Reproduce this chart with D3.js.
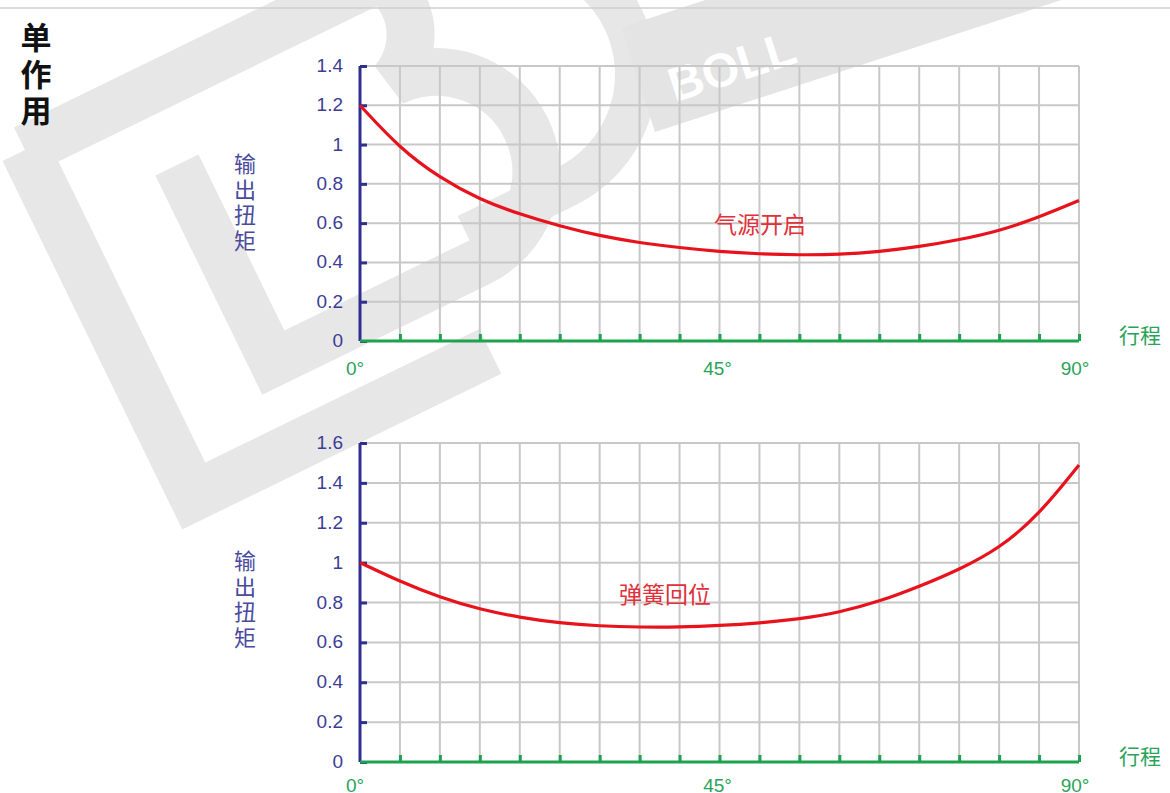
<!DOCTYPE html>
<html><head><meta charset="utf-8">
<script src="https://cdn.jsdelivr.net/npm/d3@7"></script>
<style>html,body{margin:0;padding:0;background:#fff;overflow:hidden}</style>
</head><body>
<svg id="c" width="1170" height="793"></svg>
<script>
const angles = [0,5,10,15,20,25,30,35,40,45,50,55,60,65,70,75,80,85,90];
const airOpen = [1.20,0.98,0.83,0.72,0.645,0.585,0.535,0.50,0.475,0.455,0.443,0.438,0.44,0.455,0.48,0.515,0.56,0.63,0.715];
const springReturn = [1.00,0.905,0.825,0.765,0.725,0.697,0.682,0.676,0.676,0.684,0.697,0.717,0.75,0.805,0.88,0.965,1.07,1.24,1.49];
const topTicks = [0,0.2,0.4,0.6,0.8,1,1.2,1.4];
const bottomTicks = [0,0.2,0.4,0.6,0.8,1,1.2,1.4,1.6];
const xLabels = [[0,"0°"],[45,"45°"],[90,"90°"]];
const title = "单作用";
const yTitle = "输出扭矩";
const xTitle = "行程";
const seriesNames = ["气源开启","弹簧回位"];

const svg = d3.select("#c");
const NAVY = "#2f2f8f", GREEN = "#1fa24f", GRID = "#c8c8c8", RED = "#e8121c";
const NUMFONT = "'Liberation Sans', Arial, sans-serif";
const CJK = "'Noto Sans CJK SC', sans-serif";

// watermark (decorative background)
const wm = svg.append("g").attr("fill","none").attr("stroke","#e7e7e7");
const g1 = wm.append("g").attr("transform","translate(25,150) rotate(-26)");
g1.append("path").attr("stroke-width",50)
  .attr("d","M0,0 L0,385 L330,385 M0,0 L470,0");
g1.append("path").attr("stroke-width",48)
  .attr("d","M130,80 L130,300 L360,300 A100,100 0 0 0 360,100 A70,70 0 0 0 360,-30");
g1.append("path").attr("stroke-width",42)
  .attr("d","M470,20 A125,125 0 0 1 470,270 L360,270");
const g2 = svg.append("g").attr("transform","translate(655,132) rotate(-18)");
g2.append("rect").attr("x",0).attr("y",-110).attr("width",430).attr("height",110).attr("fill","#e4e4e4");
g2.append("text").attr("x",28).attr("y",-22).attr("fill","#fff").attr("font-family",NUMFONT)
  .attr("font-weight","bold").attr("font-size",48).text("BOLL");

// top separator
svg.append("line").attr("x1",0).attr("x2",1170).attr("y1",8).attr("y2",8).attr("stroke","#cfcfcf").attr("stroke-width",1.5);

// title (vertical)
svg.append("text").attr("x",36).attr("y",22)
  .style("writing-mode","vertical-rl").style("text-orientation","upright")
  .style("letter-spacing","5.5px")
  .attr("font-family",CJK).attr("font-weight","bold").attr("font-size",31).attr("fill","#111").text(title);

function panel(yTop, yBottom, ymax, ticks, data, label, labelPos, yTitleTop, xLabelY){
  const x = d3.scaleLinear().domain([0,90]).range([360,1079]);
  const y = d3.scaleLinear().domain([0,ymax]).range([yBottom,yTop]);
  const g = svg.append("g");
  // grid
  g.append("g").selectAll("line").data(d3.range(5,95,5)).join("line")
    .attr("x1",d=>x(d)).attr("x2",d=>x(d)).attr("y1",y(ymax)).attr("y2",y(0))
    .attr("stroke",GRID).attr("stroke-width",2);
  g.append("g").selectAll("line").data(ticks.filter(d=>d>0)).join("line")
    .attr("x1",x(0)).attr("x2",x(90)).attr("y1",d=>y(d)).attr("y2",d=>y(d))
    .attr("stroke",GRID).attr("stroke-width",2);
  // y axis
  const ya = g.append("g").attr("transform",`translate(${x(0)},0)`)
    .call(d3.axisRight(y).tickValues(ticks).tickSize(7).tickFormat(""));
  ya.select(".domain").attr("stroke",NAVY).attr("stroke-width",3).attr("d",`M0,${y(ymax)}V${y(0)}`);
  ya.selectAll(".tick line").attr("stroke",NAVY).attr("stroke-width",3);
  g.append("g").selectAll("text").data(ticks).join("text")
    .attr("x",343).attr("y",d=>y(d)+6).attr("text-anchor","end")
    .attr("font-family",NUMFONT).attr("font-size",19).attr("fill","#3c3c96").text(d=>d);
  // x axis
  const xa = g.append("g").attr("transform",`translate(0,${y(0)})`)
    .call(d3.axisTop(x).tickValues(d3.range(5,95,5)).tickSize(7).tickFormat(""));
  xa.select(".domain").attr("stroke",GREEN).attr("stroke-width",3).attr("d",`M${x(0)},0H${x(90)}`);
  xa.selectAll(".tick line").attr("stroke",GREEN).attr("stroke-width",3);
  g.append("g").selectAll("text").data(xLabels).join("text")
    .attr("x",d=>x(d[0])-(d[0]==90?4:(d[0]==0?5:2))).attr("y",xLabelY).attr("text-anchor","middle")
    .attr("font-family",NUMFONT).attr("font-size",19).attr("fill","#2aa35a").text(d=>d[1]);
  g.append("text").attr("x",1140).attr("y",y(0)+2).attr("text-anchor","middle")
    .attr("font-family",CJK).attr("font-size",21).attr("fill","#2aa35a").text(xTitle);
  // y title (vertical)
  g.append("text").attr("x",245).attr("y",yTitleTop)
    .style("writing-mode","vertical-rl").style("text-orientation","upright")
    .style("letter-spacing","3.5px")
    .attr("font-family",CJK).attr("font-size",22).attr("fill","#4a4a9e").text(yTitle);
  // curve
  const line = d3.line().x((d,i)=>x(angles[i])).y(d=>y(d)).curve(d3.curveBasis);
  g.append("path").datum(data).attr("d",line).attr("fill","none").attr("stroke",RED).attr("stroke-width",3.2);
  g.append("text").attr("x",labelPos[0]).attr("y",labelPos[1]).attr("text-anchor","middle")
    .attr("font-family",CJK).attr("font-size",23).attr("fill","#e0303a").text(label);
}
panel(66, 341, 1.4, topTicks, airOpen, seriesNames[0], [760,233], 153, 375);
panel(443, 762, 1.6, bottomTicks, springReturn, seriesNames[1], [665,603], 550, 792);
</script>
</body></html>
